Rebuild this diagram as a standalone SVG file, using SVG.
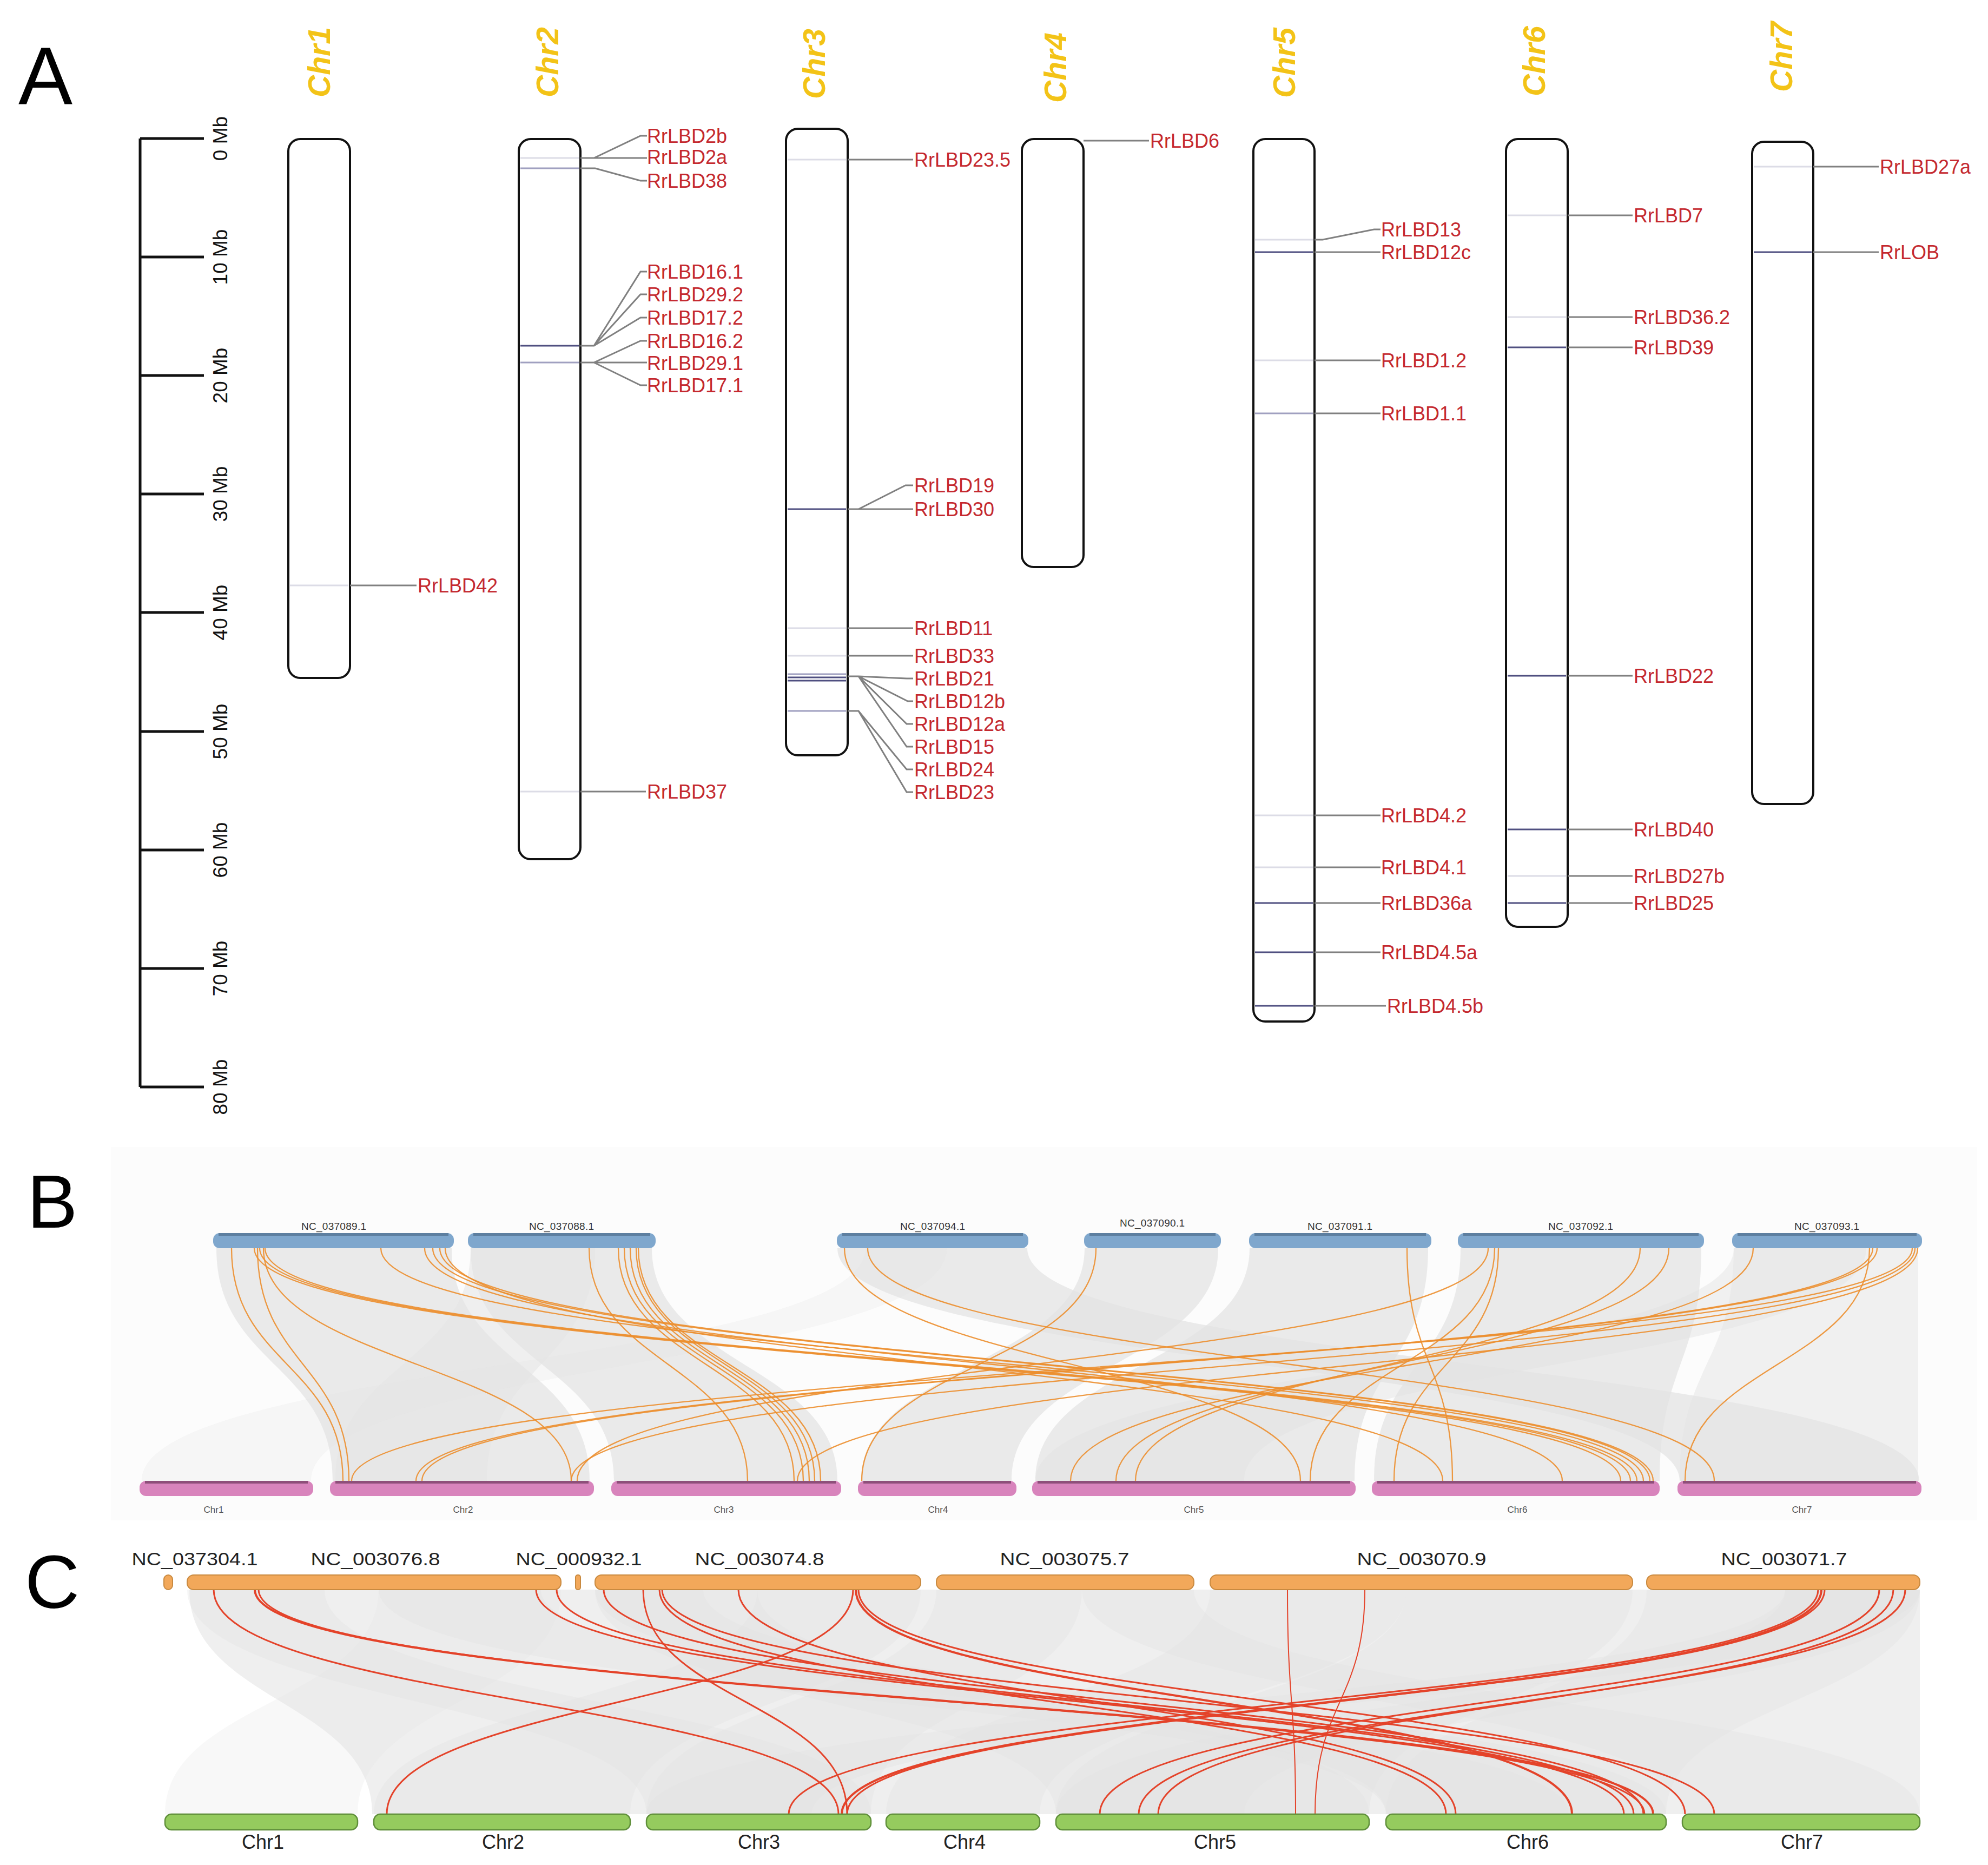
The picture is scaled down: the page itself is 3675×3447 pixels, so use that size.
<svg xmlns="http://www.w3.org/2000/svg" width="3675" height="3447" viewBox="0 0 3675 3447">
<style>
text{font-family:"Liberation Sans",Arial,sans-serif}
.lbl{font-size:36px;fill:#C4282E}
.chrl{font-size:57px;font-style:italic;font-weight:bold;fill:#F3C317}
.mb{font-size:37px;fill:#111}
.pn{font-size:150px;fill:#000}
.nc{font-size:19px;fill:#333}
.bc{font-size:17px;fill:#555}
.cnc{font-size:34px;fill:#222}
.cc{font-size:36px;fill:#222}
.chr{fill:#fff;stroke:#111;stroke-width:4}
.mkd{stroke:#4F4F80;stroke-width:3}
.mkm{stroke:#A0A0C0;stroke-width:3}
.mkl{stroke:#DCDCE6;stroke-width:3}
.cn{fill:none;stroke:#808080;stroke-width:3}
.axis{stroke:#111;stroke-width:5;fill:none}
.rb{fill:#E3E3E3;opacity:.7}
.rc{fill:#E2E2E2;opacity:.35}
.or{fill:none;stroke:#EC8E2E;stroke-width:2.3;opacity:.9}
.rd{fill:none;stroke:#E4432A;stroke-width:3}
.blue{fill:#7FA7CD}
.bluet{fill:#5D7FA0}
.pink{fill:#D884BC}
.pinkt{fill:#8E4F7A}
.orb{fill:#F2A85A;stroke:#C98A40;stroke-width:2}
.grb{fill:#95CB5E;stroke:#5F8F3A;stroke-width:2.5}
</style>

<!-- Panel A -->
<text class="pn" x="34" y="192">A</text>
<g id="scale">
<path class="axis" d="M259 256 V2009 M259 256 H377 M259 475 H377 M259 694 H377 M259 913 H377 M259 1132 H377 M259 1352 H377 M259 1571 H377 M259 1790 H377 M259 2009 H377"/>
<text class="mb" text-anchor="middle" transform="translate(420,256) rotate(-90)">0 Mb</text>
<text class="mb" text-anchor="middle" transform="translate(420,475) rotate(-90)">10 Mb</text>
<text class="mb" text-anchor="middle" transform="translate(420,694) rotate(-90)">20 Mb</text>
<text class="mb" text-anchor="middle" transform="translate(420,913) rotate(-90)">30 Mb</text>
<text class="mb" text-anchor="middle" transform="translate(420,1132) rotate(-90)">40 Mb</text>
<text class="mb" text-anchor="middle" transform="translate(420,1352) rotate(-90)">50 Mb</text>
<text class="mb" text-anchor="middle" transform="translate(420,1571) rotate(-90)">60 Mb</text>
<text class="mb" text-anchor="middle" transform="translate(420,1790) rotate(-90)">70 Mb</text>
<text class="mb" text-anchor="middle" transform="translate(420,2009) rotate(-90)">80 Mb</text>
</g>

<g id="chr1">
<text class="chrl" text-anchor="middle" transform="translate(610,115) rotate(-90)">Chr1</text>
<rect class="chr" x="533" y="257" width="114" height="996" rx="22"/>
<line class="mkl" x1="536" y1="1082" x2="644" y2="1082"/>
<text class="lbl" x="772" y="1095">RrLBD42</text>
</g>

<g id="chr2">
<text class="chrl" text-anchor="middle" transform="translate(1032,115) rotate(-90)">Chr2</text>
<rect class="chr" x="959" y="257" width="114" height="1331" rx="22"/>
<line class="mkl" x1="962" y1="292" x2="1070" y2="292"/>
<line class="mkm" x1="962" y1="311" x2="1070" y2="311"/>
<line class="mkd" x1="962" y1="639" x2="1070" y2="639"/>
<line class="mkm" x1="962" y1="670" x2="1070" y2="670"/>
<line class="mkl" x1="962" y1="1463" x2="1070" y2="1463"/>
<text class="lbl" x="1196" y="264">RrLBD2b</text>
<text class="lbl" x="1196" y="303">RrLBD2a</text>
<text class="lbl" x="1196" y="347">RrLBD38</text>
<text class="lbl" x="1196" y="515">RrLBD16.1</text>
<text class="lbl" x="1196" y="557">RrLBD29.2</text>
<text class="lbl" x="1196" y="600">RrLBD17.2</text>
<text class="lbl" x="1196" y="643">RrLBD16.2</text>
<text class="lbl" x="1196" y="684">RrLBD29.1</text>
<text class="lbl" x="1196" y="725">RrLBD17.1</text>
<text class="lbl" x="1196" y="1476">RrLBD37</text>
</g>

<g id="chr3">
<text class="chrl" text-anchor="middle" transform="translate(1525,118) rotate(-90)">Chr3</text>
<rect class="chr" x="1453" y="238" width="114" height="1158" rx="22"/>
<line class="mkl" x1="1456" y1="295" x2="1564" y2="295"/>
<line class="mkd" x1="1456" y1="941" x2="1564" y2="941"/>
<line class="mkl" x1="1456" y1="1161" x2="1564" y2="1161"/>
<line class="mkl" x1="1456" y1="1212" x2="1564" y2="1212"/>
<line class="mkm" x1="1456" y1="1246" x2="1564" y2="1246"/>
<line class="mkd" x1="1456" y1="1252" x2="1564" y2="1252"/>
<line class="mkd" x1="1456" y1="1258" x2="1564" y2="1258"/>
<line class="mkm" x1="1456" y1="1314" x2="1564" y2="1314"/>
<text class="lbl" x="1690" y="308">RrLBD23.5</text>
<text class="lbl" x="1690" y="910">RrLBD19</text>
<text class="lbl" x="1690" y="954">RrLBD30</text>
<text class="lbl" x="1690" y="1174">RrLBD11</text>
<text class="lbl" x="1690" y="1225">RrLBD33</text>
<text class="lbl" x="1690" y="1267">RrLBD21</text>
<text class="lbl" x="1690" y="1309">RrLBD12b</text>
<text class="lbl" x="1690" y="1351">RrLBD12a</text>
<text class="lbl" x="1690" y="1393">RrLBD15</text>
<text class="lbl" x="1690" y="1435">RrLBD24</text>
<text class="lbl" x="1690" y="1477">RrLBD23</text>
</g>

<g id="chr4">
<text class="chrl" text-anchor="middle" transform="translate(1971,125) rotate(-90)">Chr4</text>
<rect class="chr" x="1889" y="257" width="114" height="791" rx="22"/>
<text class="lbl" x="2126" y="273">RrLBD6</text>
</g>

<g id="chr5">
<text class="chrl" text-anchor="middle" transform="translate(2394,116) rotate(-90)">Chr5</text>
<rect class="chr" x="2317" y="257" width="113" height="1631" rx="22"/>
<line class="mkl" x1="2320" y1="443" x2="2427" y2="443"/>
<line class="mkd" x1="2320" y1="466" x2="2427" y2="466"/>
<line class="mkl" x1="2320" y1="666" x2="2427" y2="666"/>
<line class="mkm" x1="2320" y1="764" x2="2427" y2="764"/>
<line class="mkl" x1="2320" y1="1507" x2="2427" y2="1507"/>
<line class="mkl" x1="2320" y1="1603" x2="2427" y2="1603"/>
<line class="mkd" x1="2320" y1="1669" x2="2427" y2="1669"/>
<line class="mkd" x1="2320" y1="1760" x2="2427" y2="1760"/>
<line class="mkd" x1="2320" y1="1859" x2="2427" y2="1859"/>
<text class="lbl" x="2553" y="437">RrLBD13</text>
<text class="lbl" x="2553" y="479">RrLBD12c</text>
<text class="lbl" x="2553" y="679">RrLBD1.2</text>
<text class="lbl" x="2553" y="777">RrLBD1.1</text>
<text class="lbl" x="2553" y="1520">RrLBD4.2</text>
<text class="lbl" x="2553" y="1616">RrLBD4.1</text>
<text class="lbl" x="2553" y="1682">RrLBD36a</text>
<text class="lbl" x="2553" y="1773">RrLBD4.5a</text>
<text class="lbl" x="2564" y="1872">RrLBD4.5b</text>
</g>

<g id="chr6">
<text class="chrl" text-anchor="middle" transform="translate(2856,113) rotate(-90)">Chr6</text>
<rect class="chr" x="2784" y="257" width="114" height="1456" rx="22"/>
<line class="mkl" x1="2787" y1="398" x2="2895" y2="398"/>
<line class="mkl" x1="2787" y1="586" x2="2895" y2="586"/>
<line class="mkd" x1="2787" y1="642" x2="2895" y2="642"/>
<line class="mkd" x1="2787" y1="1249" x2="2895" y2="1249"/>
<line class="mkd" x1="2787" y1="1533" x2="2895" y2="1533"/>
<line class="mkl" x1="2787" y1="1619" x2="2895" y2="1619"/>
<line class="mkd" x1="2787" y1="1669" x2="2895" y2="1669"/>
<text class="lbl" x="3020" y="411">RrLBD7</text>
<text class="lbl" x="3020" y="599">RrLBD36.2</text>
<text class="lbl" x="3020" y="655">RrLBD39</text>
<text class="lbl" x="3020" y="1262">RrLBD22</text>
<text class="lbl" x="3020" y="1546">RrLBD40</text>
<text class="lbl" x="3020" y="1632">RrLBD27b</text>
<text class="lbl" x="3020" y="1682">RrLBD25</text>
</g>

<g id="chr7">
<text class="chrl" text-anchor="middle" transform="translate(3313,105) rotate(-90)">Chr7</text>
<rect class="chr" x="3239" y="262" width="113" height="1224" rx="22"/>
<line class="mkl" x1="3242" y1="308" x2="3349" y2="308"/>
<line class="mkd" x1="3242" y1="466" x2="3349" y2="466"/>
<text class="lbl" x="3475" y="321">RrLBD27a</text>
<text class="lbl" x="3475" y="479">RrLOB</text>
</g>

<g id="connectors-A">
<path class="cn" d="M647 1082 H770"/>
<path class="cn" d="M1073 292 H1098 L1184 251 H1196 M1098 292 H1196"/>
<path class="cn" d="M1073 311 H1100 L1184 334 H1196"/>
<path class="cn" d="M1073 639 H1098 L1184 502 H1196 M1098 639 L1184 544 H1196 M1098 639 L1184 587 H1196"/>
<path class="cn" d="M1073 670 H1098 L1184 630 H1196 M1098 670 H1196 M1098 670 L1184 712 H1196"/>
<path class="cn" d="M1073 1463 H1194"/>
<path class="cn" d="M1567 295 H1688"/>
<path class="cn" d="M1567 941 H1587 L1674 897 H1688 M1587 941 H1688"/>
<path class="cn" d="M1567 1161 H1688 M1567 1212 H1688"/>
<path class="cn" d="M1567 1250 H1587 L1676 1254 H1688 M1587 1250 L1678 1296 H1688 M1587 1250 L1676 1338 H1688 M1587 1250 L1676 1380 H1688"/>
<path class="cn" d="M1567 1314 H1587 L1676 1422 H1688 M1587 1314 L1676 1464 H1688"/>
<path class="cn" d="M2003 260 H2124"/>
<path class="cn" d="M2430 443 H2445 L2540 424 H2552 M2430 466 H2552"/>
<path class="cn" d="M2430 666 H2552 M2430 764 H2552 M2430 1507 H2552 M2430 1603 H2552 M2430 1669 H2552 M2430 1760 H2552 M2430 1859 H2562"/>
<path class="cn" d="M2898 398 H3018 M2898 586 H3018 M2898 642 H3018 M2898 1249 H3018 M2898 1533 H3018 M2898 1619 H3018 M2898 1669 H3018"/>
<path class="cn" d="M3352 308 H3473 M3352 466 H3473"/>
</g>

<!-- Panel B -->
<rect x="205" y="2120" width="3450" height="690" fill="#FCFCFC"/>
<text class="pn" x="50" y="2269" style="font-size:140px">B</text>
<g id="ribbons-B">
<path class="rb" d="M400 2307 C400 2522 615 2522 615 2737 L1090 2737 C1090 2522 835 2522 835 2307 Z"/>
<path class="rb" d="M870 2307 C870 2522 1135 2522 1135 2737 L1548 2737 C1548 2522 1205 2522 1205 2307 Z"/>
<path class="rb" style="opacity:.55" d="M870 2307 C870 2522 620 2522 620 2737 L900 2737 C900 2522 1100 2522 1100 2307 Z"/>
<path class="rb" d="M1548 2307 C1548 2522 3105 2522 3105 2737 L3548 2737 C3548 2522 1899 2522 1899 2307 Z"/>
<path class="rb" d="M2005 2307 C2005 2522 1592 2522 1592 2737 L1870 2737 C1870 2522 2252 2522 2252 2307 Z"/>
<path class="rb" d="M2310 2307 C2310 2522 1914 2522 1914 2737 L2504 2737 C2504 2522 2640 2522 2640 2307 Z"/>
<path class="rb" d="M2700 2307 C2700 2522 2540 2522 2540 2737 L3068 2737 C3068 2522 3145 2522 3145 2307 Z"/>
<path class="rb" style="opacity:.5" d="M3205 2307 C3205 2522 3105 2522 3105 2737 L3546 2737 C3546 2522 3546 2522 3546 2307 Z"/>
<path class="rb" style="opacity:.45" d="M3205 2307 C3205 2522 1914 2522 1914 2737 L2300 2737 C2300 2522 3450 2522 3450 2307 Z"/>
<path class="rb" style="opacity:.25" d="M1600 2307 C1600 2522 262 2522 262 2737 L575 2737 C575 2522 1750 2522 1750 2307 Z"/>
</g>
<g id="links-B">
<path class="or" d="M428 2307 C428 2522 634 2522 634 2737"/>
<path class="or" d="M476 2307 C476 2522 645 2522 645 2737"/>
<path class="or" d="M487 2307 C487 2522 1056 2522 1056 2737"/>
<path class="or" d="M470 2307 C470 2522 2996 2522 2996 2737"/>
<path class="or" d="M480 2307 C480 2522 3014 2522 3014 2737"/>
<path class="or" d="M490 2307 C490 2522 3026 2522 3026 2737"/>
<path class="or" d="M704 2307 C704 2522 3038 2522 3038 2737"/>
<path class="or" d="M785 2307 C785 2522 2888 2522 2888 2737"/>
<path class="or" d="M800 2307 C800 2522 3050 2522 3050 2737"/>
<path class="or" d="M813 2307 C813 2522 3056 2522 3056 2737"/>
<path class="or" d="M823 2307 C823 2522 2667 2522 2667 2737"/>
<path class="or" d="M1089 2307 C1089 2522 1382 2522 1382 2737"/>
<path class="or" d="M1143 2307 C1143 2522 1468 2522 1468 2737"/>
<path class="or" d="M1154 2307 C1154 2522 1485 2522 1485 2737"/>
<path class="or" d="M1165 2307 C1165 2522 1496 2522 1496 2737"/>
<path class="or" d="M1176 2307 C1176 2522 1506 2522 1506 2737"/>
<path class="or" d="M1180 2307 C1180 2522 1517 2522 1517 2737"/>
<path class="or" d="M1561 2307 C1561 2522 2404 2522 2404 2737"/>
<path class="or" d="M1604 2307 C1604 2522 3169 2522 3169 2737"/>
<path class="or" d="M2026 2307 C2026 2522 1593 2522 1593 2737"/>
<path class="or" d="M2601 2307 C2601 2522 2685 2522 2685 2737"/>
<path class="or" d="M2751 2307 C2751 2522 1067 2522 1067 2737"/>
<path class="or" d="M2763 2307 C2763 2522 2422 2522 2422 2737"/>
<path class="or" d="M2770 2307 C2770 2522 2577 2522 2577 2737"/>
<path class="or" d="M3032 2307 C3032 2522 2099 2522 2099 2737"/>
<path class="or" d="M3085 2307 C3085 2522 2063 2522 2063 2737"/>
<path class="or" d="M3241 2307 C3241 2522 1979 2522 1979 2737"/>
<path class="or" d="M3456 2307 C3456 2522 3115 2522 3115 2737"/>
<path class="or" d="M3462 2307 C3462 2522 769 2522 769 2737"/>
<path class="or" d="M3470 2307 C3470 2522 780 2522 780 2737"/>
<path class="or" d="M3535 2307 C3535 2522 650 2522 650 2737"/>
<path class="or" d="M3540 2307 C3540 2522 1056 2522 1056 2737"/>
<path class="or" d="M3545 2307 C3545 2522 1474 2522 1474 2737"/>
</g>
<g id="genomeB-top">
<g id="b-top-1"><rect class="blue" x="394" y="2279" width="445" height="28" rx="12"/><rect class="bluet" x="404" y="2279" width="425" height="5"/><text class="nc" x="617" y="2273" text-anchor="middle" textLength="120">NC_037089.1</text></g>
<g id="b-top-2"><rect class="blue" x="865" y="2279" width="347" height="28" rx="12"/><rect class="bluet" x="875" y="2279" width="327" height="5"/><text class="nc" x="1038" y="2273" text-anchor="middle" textLength="120">NC_037088.1</text></g>
<g id="b-top-3"><rect class="blue" x="1547" y="2279" width="354" height="28" rx="12"/><rect class="bluet" x="1557" y="2279" width="334" height="5"/><text class="nc" x="1724" y="2273" text-anchor="middle" textLength="120">NC_037094.1</text></g>
<g id="b-top-4"><rect class="blue" x="2004" y="2279" width="253" height="28" rx="12"/><rect class="bluet" x="2014" y="2279" width="233" height="5"/><text class="nc" x="2130" y="2267" text-anchor="middle" textLength="120">NC_037090.1</text></g>
<g id="b-top-5"><rect class="blue" x="2309" y="2279" width="337" height="28" rx="12"/><rect class="bluet" x="2319" y="2279" width="317" height="5"/><text class="nc" x="2477" y="2273" text-anchor="middle" textLength="120">NC_037091.1</text></g>
<g id="b-top-6"><rect class="blue" x="2695" y="2279" width="455" height="28" rx="12"/><rect class="bluet" x="2705" y="2279" width="435" height="5"/><text class="nc" x="2922" y="2273" text-anchor="middle" textLength="120">NC_037092.1</text></g>
<g id="b-top-7"><rect class="blue" x="3202" y="2279" width="351" height="28" rx="12"/><rect class="bluet" x="3212" y="2279" width="331" height="5"/><text class="nc" x="3377" y="2273" text-anchor="middle" textLength="120">NC_037093.1</text></g>
</g>
<g id="genomeB-bottom">
<g id="b-bot-1"><rect class="pink" x="258" y="2737" width="321" height="28" rx="12"/><rect class="pinkt" x="268" y="2737" width="301" height="5"/><text class="bc" x="395" y="2796" text-anchor="middle">Chr1</text></g>
<g id="b-bot-2"><rect class="pink" x="610" y="2737" width="488" height="28" rx="12"/><rect class="pinkt" x="620" y="2737" width="468" height="5"/><text class="bc" x="856" y="2796" text-anchor="middle">Chr2</text></g>
<g id="b-bot-3"><rect class="pink" x="1130" y="2737" width="425" height="28" rx="12"/><rect class="pinkt" x="1140" y="2737" width="405" height="5"/><text class="bc" x="1338" y="2796" text-anchor="middle">Chr3</text></g>
<g id="b-bot-4"><rect class="pink" x="1586" y="2737" width="293" height="28" rx="12"/><rect class="pinkt" x="1596" y="2737" width="273" height="5"/><text class="bc" x="1734" y="2796" text-anchor="middle">Chr4</text></g>
<g id="b-bot-5"><rect class="pink" x="1908" y="2737" width="598" height="28" rx="12"/><rect class="pinkt" x="1918" y="2737" width="578" height="5"/><text class="bc" x="2207" y="2796" text-anchor="middle">Chr5</text></g>
<g id="b-bot-6"><rect class="pink" x="2536" y="2737" width="532" height="28" rx="12"/><rect class="pinkt" x="2546" y="2737" width="512" height="5"/><text class="bc" x="2805" y="2796" text-anchor="middle">Chr6</text></g>
<g id="b-bot-7"><rect class="pink" x="3101" y="2737" width="451" height="28" rx="12"/><rect class="pinkt" x="3111" y="2737" width="431" height="5"/><text class="bc" x="3331" y="2796" text-anchor="middle">Chr7</text></g>
</g>

<!-- Panel C -->
<text class="pn" x="46" y="2972" style="font-size:140px">C</text>
<g id="ribbons-C">
<path fill="#EFEFEF" d="M350 2938 C350 3145 688 3145 688 3353 L3549 3353 L3549 2938 Z"/>
<path class="rc" style="opacity:.25" d="M700 2938 C700 3145 305 3145 305 3353 L661 3353 C661 3145 1037 3145 1037 2938 Z"/>
<path class="rc" d="M346 2938 C346 3145 1195 3145 1195 3353 L1610 3353 C1610 3145 600 3145 600 2938 Z"/>
<path class="rc" d="M1100 2938 C1100 3145 1952 3145 1952 3353 L2531 3353 C2531 3145 1400 3145 1400 2938 Z"/>
<path class="rc" d="M1400 2938 C1400 3145 691 3145 691 3353 L1165 3353 C1165 3145 1702 3145 1702 2938 Z"/>
<path class="rc" d="M1100 2938 C1100 3145 2562 3145 2562 3353 L3080 3353 C3080 3145 1300 3145 1300 2938 Z"/>
<path class="rc" d="M1731 2938 C1731 3145 1195 3145 1195 3353 L1610 3353 C1610 3145 2000 3145 2000 2938 Z"/>
<path class="rc" d="M2000 2938 C2000 3145 3110 3145 3110 3353 L3549 3353 C3549 3145 2207 3145 2207 2938 Z"/>
<path class="rc" d="M2237 2938 C2237 3145 1638 3145 1638 3353 L1922 3353 C1922 3145 2600 3145 2600 2938 Z"/>
<path class="rc" d="M2600 2938 C2600 3145 1952 3145 1952 3353 L2531 3353 C2531 3145 3018 3145 3018 2938 Z"/>
<path class="rc" d="M3300 2938 C3300 3145 1952 3145 1952 3353 L2300 3353 C2300 3145 3549 3145 3549 2938 Z"/>
<path class="rc" d="M3044 2938 C3044 3145 2562 3145 2562 3353 L3080 3353 C3080 3145 3549 3145 3549 2938 Z"/>
<path class="rc" d="M700 2938 C700 3145 2562 3145 2562 3353 L2900 3353 C2900 3145 1000 3145 1000 2938 Z"/>
<path class="rc" d="M3300 2938 C3300 3145 1195 3145 1195 3353 L1500 3353 C1500 3145 3549 3145 3549 2938 Z"/>
</g>
<g id="links-C">
<path class="rd" d="M395 2938 C395 3145 1550 3145 1550 3353"/>
<path class="rd" style="stroke-width:4" d="M471 2938 C471 3145 3056 3145 3056 3353"/>
<path class="rd" d="M478 2938 C478 3145 3040 3145 3040 3353"/>
<path class="rd" d="M991 2938 C991 3145 3002 3145 3002 3353"/>
<path class="rd" d="M1029 2938 C1029 3145 3020 3145 3020 3353"/>
<path class="rd" d="M1116 2938 C1116 3145 3038 3145 3038 3353"/>
<path class="rd" d="M1189 2938 C1189 3145 1566 3145 1566 3353"/>
<path class="rd" d="M1219 2938 C1219 3145 2673 3145 2673 3353"/>
<path class="rd" d="M1224 2938 C1224 3145 3169 3145 3169 3353"/>
<path class="rd" d="M1365 2938 C1365 3145 2691 3145 2691 3353"/>
<path class="rd" d="M1577 2938 C1577 3145 715 3145 715 3353"/>
<path class="rd" style="stroke-width:4" d="M1582 2938 C1582 3145 2906 3145 2906 3353"/>
<path class="rd" d="M1587 2938 C1587 3145 3115 3145 3115 3353"/>
<path class="rd" style="stroke-width:2" d="M2380 2938 C2380 3145 2395 3145 2395 3353"/>
<path class="rd" style="stroke-width:2" d="M2523 2938 C2523 3145 2431 3145 2431 3353"/>
<path class="rd" d="M3361 2938 C3361 3145 1458 3145 1458 3353"/>
<path class="rd" style="stroke-width:4" d="M3367 2938 C3367 3145 1556 3145 1556 3353"/>
<path class="rd" d="M3373 2938 C3373 3145 1566 3145 1566 3353"/>
<path class="rd" d="M3474 2938 C3474 3145 2033 3145 2033 3353"/>
<path class="rd" d="M3500 2938 C3500 3145 2141 3145 2141 3353"/>
<path class="rd" d="M3522 2938 C3522 3145 2105 3145 2105 3353"/>
</g>
<g id="genomeC-top">
<g id="c-top-1"><rect class="orb" x="303" y="2911" width="16" height="27" rx="8"/><text class="cnc" x="360" y="2893" text-anchor="middle" textLength="233" lengthAdjust="spacingAndGlyphs">NC_037304.1</text></g>
<g id="c-top-2"><rect class="orb" x="346" y="2911" width="691" height="27" rx="12"/><text class="cnc" x="694" y="2893" text-anchor="middle" textLength="239" lengthAdjust="spacingAndGlyphs">NC_003076.8</text></g>
<g id="c-top-3"><rect class="orb" x="1064" y="2911" width="9" height="27" rx="4"/><text class="cnc" x="1070" y="2893" text-anchor="middle" textLength="233" lengthAdjust="spacingAndGlyphs">NC_000932.1</text></g>
<g id="c-top-4"><rect class="orb" x="1100" y="2911" width="602" height="27" rx="12"/><text class="cnc" x="1404" y="2893" text-anchor="middle" textLength="239" lengthAdjust="spacingAndGlyphs">NC_003074.8</text></g>
<g id="c-top-5"><rect class="orb" x="1731" y="2911" width="476" height="27" rx="12"/><text class="cnc" x="1968" y="2893" text-anchor="middle" textLength="239" lengthAdjust="spacingAndGlyphs">NC_003075.7</text></g>
<g id="c-top-6"><rect class="orb" x="2237" y="2911" width="781" height="27" rx="12"/><text class="cnc" x="2628" y="2893" text-anchor="middle" textLength="239" lengthAdjust="spacingAndGlyphs">NC_003070.9</text></g>
<g id="c-top-7"><rect class="orb" x="3044" y="2911" width="505" height="27" rx="12"/><text class="cnc" x="3298" y="2893" text-anchor="middle" textLength="233" lengthAdjust="spacingAndGlyphs">NC_003071.7</text></g>
</g>
<g id="genomeC-bottom">
<g id="c-bot-1"><rect class="grb" x="305" y="3353" width="356" height="29" rx="12"/><text class="cc" x="486" y="3417" text-anchor="middle">Chr1</text></g>
<g id="c-bot-2"><rect class="grb" x="691" y="3353" width="474" height="29" rx="12"/><text class="cc" x="930" y="3417" text-anchor="middle">Chr2</text></g>
<g id="c-bot-3"><rect class="grb" x="1195" y="3353" width="415" height="29" rx="12"/><text class="cc" x="1403" y="3417" text-anchor="middle">Chr3</text></g>
<g id="c-bot-4"><rect class="grb" x="1638" y="3353" width="284" height="29" rx="12"/><text class="cc" x="1783" y="3417" text-anchor="middle">Chr4</text></g>
<g id="c-bot-5"><rect class="grb" x="1952" y="3353" width="579" height="29" rx="12"/><text class="cc" x="2246" y="3417" text-anchor="middle">Chr5</text></g>
<g id="c-bot-6"><rect class="grb" x="2562" y="3353" width="518" height="29" rx="12"/><text class="cc" x="2824" y="3417" text-anchor="middle">Chr6</text></g>
<g id="c-bot-7"><rect class="grb" x="3110" y="3353" width="439" height="29" rx="12"/><text class="cc" x="3331" y="3417" text-anchor="middle">Chr7</text></g>
</g>
</svg>
